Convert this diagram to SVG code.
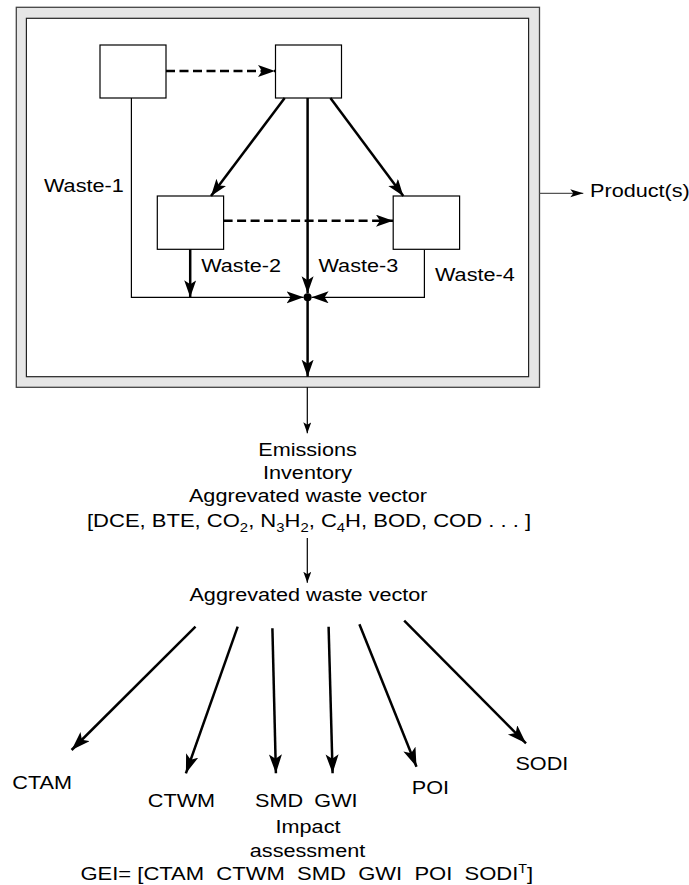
<svg xmlns="http://www.w3.org/2000/svg" width="689" height="885" viewBox="0 0 689 885">
<style>
.t { font-family: "Liberation Sans", Arial, sans-serif; font-size: 18.5px; fill: #000; white-space: pre; }
.box { fill: #fff; stroke: #000; stroke-width: 1.2; }
.thick { stroke: #000; stroke-width: 2.5; fill: none; }
.thin { stroke: #000; stroke-width: 1.2; fill: none; }
.dash { stroke: #000; stroke-width: 2.5; fill: none; stroke-dasharray: 9 4.5; }
</style>
<defs>
<marker id="big" markerUnits="userSpaceOnUse" markerWidth="20" markerHeight="14" refX="17" refY="6" orient="auto"><path d="M0,0 L17,6 L0,12 L4,6 z" fill="#000"/></marker>
<marker id="fan" markerUnits="userSpaceOnUse" markerWidth="22" markerHeight="16" refX="19" refY="6.5" orient="auto"><path d="M0,0 L19,6.5 L0,13 L4.5,6.5 z" fill="#000"/></marker>
<marker id="small" markerUnits="userSpaceOnUse" markerWidth="12" markerHeight="10" refX="11" refY="4" orient="auto"><path d="M0,0 L11,4 L0,8 L2.5,4 z" fill="#000"/></marker>
<marker id="smallg" markerUnits="userSpaceOnUse" markerWidth="14" markerHeight="10" refX="13" refY="4" orient="auto"><path d="M0,0 L13,4 L0,8 L3,4 z" fill="#000"/></marker>
</defs>

<g id="frame">
<rect x="16.3" y="7.3" width="523.2" height="380" fill="#e6e6e6" stroke="#444" stroke-width="1.3"/>
<rect x="26.4" y="18.3" width="502.2" height="358.4" fill="#fff" stroke="#222" stroke-width="1.2"/>
</g>

<g id="box1"><rect class="box" x="100" y="45" width="66" height="53"/></g>
<g id="box2"><rect class="box" x="275.5" y="45" width="66" height="53"/></g>
<g id="box3"><rect class="box" x="157.3" y="196" width="66.3" height="53.3"/></g>
<g id="box4"><rect class="box" x="393.2" y="196" width="66.4" height="53.3"/></g>
<g id="junction"><circle cx="307.6" cy="297.3" r="4" fill="#000"/></g>

<g id="connectors">
<line class="dash" x1="166" y1="71" x2="275" y2="71" marker-end="url(#big)"/>
<line class="dash" x1="223.6" y1="220.7" x2="393" y2="220.7" marker-end="url(#big)"/>
<line class="thick" x1="284.7" y1="98" x2="211" y2="196" marker-end="url(#big)"/>
<line class="thick" x1="330.4" y1="98" x2="403.3" y2="196" marker-end="url(#big)"/>
<line class="thick" x1="307.6" y1="98" x2="307.6" y2="293.3" marker-end="url(#big)"/>
<line class="thick" x1="190.2" y1="249.3" x2="190.2" y2="297.3" marker-end="url(#big)"/>
<polyline class="thin" points="131.4,98 131.4,297.3 303.6,297.3" marker-end="url(#big)"/>
<polyline class="thin" points="424.4,250 424.4,297.3 311.6,297.3" marker-end="url(#big)"/>
<line class="thick" x1="307.6" y1="297.3" x2="307.6" y2="376.7" marker-end="url(#big)"/>
<line x1="539.5" y1="193.3" x2="583.3" y2="193.3" stroke="#555" stroke-width="1.3" marker-end="url(#smallg)"/>
<line class="thin" x1="307.3" y1="387.3" x2="307.3" y2="433.3" marker-end="url(#small)"/>
<line class="thin" x1="307.3" y1="538" x2="307.3" y2="582.7" marker-end="url(#small)"/>
<line class="thick" x1="195.5" y1="626.7" x2="71.6" y2="750" marker-end="url(#fan)"/>
<line class="thick" x1="237.7" y1="626.7" x2="185.9" y2="773.3" marker-end="url(#fan)"/>
<line class="thick" x1="272.4" y1="628.3" x2="275.9" y2="773.3" marker-end="url(#fan)"/>
<line class="thick" x1="328.6" y1="626.7" x2="332.6" y2="773.3" marker-end="url(#fan)"/>
<line class="thick" x1="359.4" y1="624.3" x2="416.5" y2="766.7" marker-end="url(#fan)"/>
<line class="thick" x1="404.2" y1="620.7" x2="526" y2="743.3" marker-end="url(#fan)"/>
</g>

<g id="labels">
<text class="t" transform="translate(44,192) scale(1.17,1)">Waste-1</text>
<text class="t" transform="translate(201.2,271.7) scale(1.17,1)">Waste-2</text>
<text class="t" transform="translate(318.5,271.7) scale(1.17,1)">Waste-3</text>
<text class="t" transform="translate(435,280.7) scale(1.17,1)">Waste-4</text>
<text class="t" transform="translate(590,197) scale(1.17,1)">Product(s)</text>
</g>

<g id="inventory">
<text class="t" text-anchor="middle" transform="translate(307.5,455.7) scale(1.17,1)">Emissions</text>
<text class="t" text-anchor="middle" transform="translate(307.5,478.7) scale(1.17,1)">Inventory</text>
<text class="t" text-anchor="middle" transform="translate(308,502) scale(1.17,1)">Aggrevated waste vector</text>
<text class="t" text-anchor="middle" transform="translate(309,526.5) scale(1.19,1)">[DCE, BTE, CO<tspan font-size="12.5" dy="5">2</tspan><tspan dy="-5">, N</tspan><tspan font-size="12.5" dy="5">3</tspan><tspan dy="-5">H</tspan><tspan font-size="12.5" dy="5">2</tspan><tspan dy="-5">, C</tspan><tspan font-size="12.5" dy="5">4</tspan><tspan dy="-5">H, BOD, COD . . . ]</tspan></text>
</g>

<g id="vector">
<text class="t" text-anchor="middle" transform="translate(308.5,600.7) scale(1.17,1)">Aggrevated waste vector</text>
</g>

<g id="ctam"><text class="t" transform="translate(12.3,789.3) scale(1.17,1)">CTAM</text></g>
<g id="ctwm"><text class="t" transform="translate(147.8,806.7) scale(1.17,1)">CTWM</text></g>
<g id="smd"><text class="t" transform="translate(255,806.7) scale(1.17,1)">SMD</text></g>
<g id="gwi"><text class="t" transform="translate(314.3,806.7) scale(1.17,1)">GWI</text></g>
<g id="poi"><text class="t" transform="translate(411.7,794) scale(1.17,1)">POI</text></g>
<g id="sodi"><text class="t" transform="translate(515.4,770) scale(1.17,1)">SODI</text></g>

<g id="assessment">
<text class="t" text-anchor="middle" transform="translate(308,833) scale(1.17,1)">Impact</text>
<text class="t" text-anchor="middle" transform="translate(307.5,857) scale(1.17,1)">assessment</text>
<text class="t" transform="translate(80.4,880) scale(1.19,1)">GEI= [CTAM  CTWM  SMD  GWI  POI  SODI<tspan font-size="12" dy="-7">T</tspan><tspan dy="7">]</tspan></text>
</g>
</svg>
